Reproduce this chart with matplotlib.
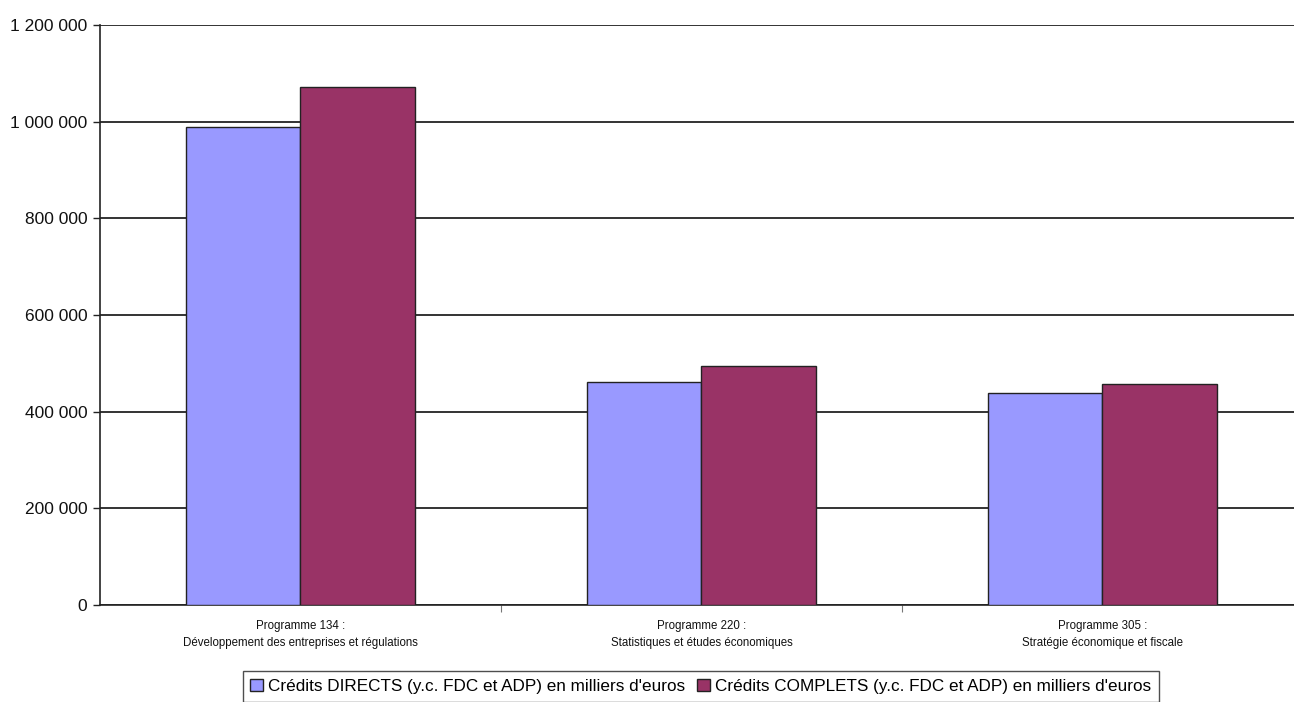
import numpy as np
import matplotlib
matplotlib.use("Agg")
import matplotlib.pyplot as plt
from matplotlib.ticker import FuncFormatter

plt.rcParams['font.family'] = ['Liberation Sans Narrow', 'Liberation Sans', 'DejaVu Sans']

categories = ["Programme 134 :\nDéveloppement des entreprises et régulations",
              "Programme 220 :\nStatistiques et études économiques",
              "Programme 305 :\nStratégie économique et fiscale"]
directs = [988000, 461000, 438000]
complets = [1072000, 495000, 457000]
series_names = ["Crédits DIRECTS (y.c. FDC et ADP) en milliers d'euros",
                "Crédits COMPLETS (y.c. FDC et ADP) en milliers d'euros"]
y_ticks = [0, 200000, 400000, 600000, 800000, 1000000, 1200000]

W, H = 1294, 702
fig = plt.figure(figsize=(W / 100, H / 100), dpi=100)
ax = fig.add_axes([100 / W, 97 / H, 1203 / W, 580 / H])

x = np.arange(len(categories))
bw = 0.2857
ax.bar(x - bw / 2, directs, bw, color='#9999FF', edgecolor='#222222', linewidth=1.0,
       label=series_names[0], zorder=3)
ax.bar(x + bw / 2, complets, bw, color='#993366', edgecolor='#222222', linewidth=1.0,
       label=series_names[1], zorder=3)

ax.set_xlim(-0.5, 2.5)
ax.set_ylim(0, 1200000)
ax.set_yticks(y_ticks)
ax.yaxis.set_major_formatter(FuncFormatter(lambda v, p: f"{int(v):,}".replace(",", " ")))
ax.yaxis.grid(True, color='#111111', linewidth=1.2, zorder=0)
ax.tick_params(axis='y', length=5, width=1, color='#222222', labelsize=12.5, pad=4,
               labelcolor='#111111')

ax.set_xticks([0.5, 1.5])
ax.set_xticklabels([])
ax.set_xticks(x, minor=True)
ax.set_xticklabels(categories, minor=True, fontsize=8.3, color='#111111', linespacing=1.5)
ax.tick_params(axis='x', which='major', length=5, width=0.8, color='#777777')
ax.tick_params(axis='x', which='minor', length=0, pad=11)

for s in ['top', 'right']:
    ax.spines[s].set_visible(False)
for s in ['left', 'bottom']:
    ax.spines[s].set_color('#222222')
    ax.spines[s].set_linewidth(1.2)

leg = fig.legend(loc='upper center', bbox_to_anchor=(701 / W, 1 - 671 / H), ncol=2,
                 fontsize=12.3, frameon=True, fancybox=False, edgecolor='#222222',
                 handlelength=0.75, handleheight=0.75, handletextpad=0.3, columnspacing=0.7,
                 borderpad=0.45, borderaxespad=0)
leg.get_frame().set_linewidth(1.0)

fig.savefig("out.png", dpi=100)
